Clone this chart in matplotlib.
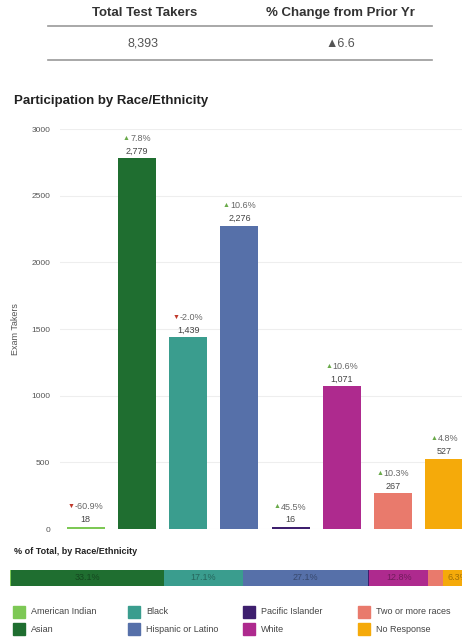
import matplotlib.pyplot as plt
import matplotlib.patches as mpatches

plt.rcParams['font.family'] = ['Liberation Sans', 'DejaVu Sans']

groups = ["American Indian", "Asian", "Black", "Hispanic or Latino",
          "Pacific Islander", "White", "Two or more races", "No Response"]
takers = [18, 2779, 1439, 2276, 16, 1071, 267, 527]
change = [-60.9, 7.8, -2.0, 10.6, 45.5, 10.6, 10.3, 4.8]
colors = ["#7dc855", "#1f6e30", "#3a9d8e", "#5670a9",
          "#3e1f6e", "#ae2a8e", "#e97a6c", "#f5aa0a"]
total_takers = 8393
total_change = 6.6

W, H = 462, 642
fig = plt.figure(figsize=(W / 100, H / 100), dpi=100)

def px(x, y):
    return x / W, 1 - y / H

# header table
fig.text(*px(145, 13), "Total Test Takers", ha='center', va='center',
         fontsize=9.5, fontweight='bold', color='#333333')
fig.text(*px(340, 13), "% Change from Prior Yr", ha='center', va='center',
         fontsize=9.5, fontweight='bold', color='#333333')
fig.text(*px(143, 44), f"{total_takers:,}", ha='center', va='center',
         fontsize=9, color='#555555')
fig.text(*px(340, 44), f"\u25b2{total_change}", ha='center', va='center',
         fontsize=9, color='#555555')
for yy in (26, 60):
    fig.add_artist(plt.Line2D([48 / W, 432 / W], [1 - yy / H] * 2,
                              color='#999999', lw=1.2))

fig.text(*px(14, 101), "Participation by Race/Ethnicity", ha='left', va='center',
         fontsize=9.5, fontweight='bold', color='#222222')

# main bar chart
ax = fig.add_axes([60 / W, 1 - 529 / H, 410 / W, 400 / H])
x = range(len(groups))
ax.bar(x, takers, width=0.74, color=colors)
ax.set_xlim(-0.5, len(groups) - 0.5)
ax.set_ylim(0, 3000)
ax.set_yticks([0, 500, 1000, 1500, 2000, 2500, 3000])
ax.tick_params(axis='y', labelsize=6, colors='#555555', length=0, pad=7)
ax.set_xticks([])
ax.grid(axis='y', color='#eeeeee', lw=0.8)
ax.set_axisbelow(True)
for s in ax.spines.values():
    s.set_visible(False)
ax.set_ylabel("Exam Takers", fontsize=6.5, color='#555555', labelpad=8)

pct_texts = []
for i, (v, c) in enumerate(zip(takers, change)):
    ax.annotate(f"{v:,}", (i, v), xytext=(0, 2), textcoords='offset points',
                ha='center', va='bottom', fontsize=6.5, color='#444444')
    t = ax.annotate(f"{c:.1f}%", (i, v), xytext=(2.5, 11), textcoords='offset points',
                    ha='center', va='bottom', fontsize=6.5, color='#666666')
    pct_texts.append(t)

fig.canvas.draw()
inv = fig.transFigure.inverted()
for t, c in zip(pct_texts, change):
    bb = t.get_window_extent()
    tri, tc = ("\u25b2", "#6aaa4a") if c >= 0 else ("\u25bc", "#c0392b")
    fx, fy = inv.transform((bb.x0 - 0.5, bb.y0 + 1.2))
    fig.text(fx, fy, tri, ha='right', va='bottom', fontsize=5, color=tc)

# % of total section
fig.text(*px(14, 552), "% of Total, by Race/Ethnicity", ha='left', va='center',
         fontsize=6.5, fontweight='bold', color='#222222')
ax2 = fig.add_axes([10 / W, 1 - 586 / H, 462 / W, 16 / H])
left = 0
for g, v, col in zip(groups, takers, colors):
    share = v / total_takers * 100
    ax2.barh(0, share, left=left, color=col, height=1)
    if share > 5:
        ax2.text(left + share / 2, 0, f"{share:.1f}%", ha='center', va='center',
                 fontsize=6.5, color='black', alpha=0.35)
    left += share
ax2.set_xlim(0, 100)
ax2.set_ylim(-0.5, 0.5)
ax2.axis('off')

# legend
col_x = [13, 128, 243, 358]
row_y = [612, 629]
for k, (g, col) in enumerate(zip(groups, colors)):
    cx = col_x[k // 2]
    cy = row_y[k % 2]
    fig.add_artist(mpatches.Rectangle((cx / W, 1 - (cy + 6) / H), 12 / W, 12 / H,
                                      color=col, transform=fig.transFigure))
    fig.text((cx + 18) / W, 1 - cy / H, g, ha='left', va='center',
             fontsize=6.5, color='#444444')

fig.savefig("out.png", dpi=100)
